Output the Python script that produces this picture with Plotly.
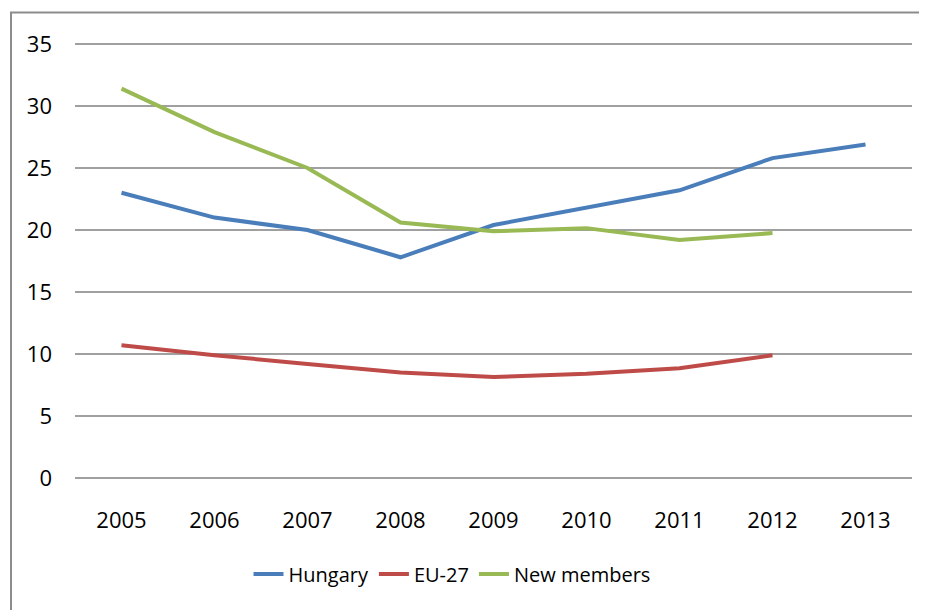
import plotly.graph_objects as go

years = ["2005", "2006", "2007", "2008", "2009", "2010", "2011", "2012", "2013"]
hungary = [23.0, 21.0, 20.0, 17.8, 20.4, 21.8, 23.2, 25.8, 26.9]
eu27 = [10.7, 9.9, 9.2, 8.5, 8.15, 8.4, 8.85, 9.9, None]
new_members = [31.4, 27.9, 25.0, 20.6, 19.9, 20.15, 19.2, 19.75, None]
y_ticks = [0, 5, 10, 15, 20, 25, 30, 35]

FONT = "Open Sans, Liberation Sans, sans-serif"

fig = go.Figure()
fig.add_trace(go.Scatter(x=years, y=hungary, name="Hungary", mode="lines",
                         line=dict(color="#4a7ebb", width=4)))
fig.add_trace(go.Scatter(x=years, y=eu27, name="EU-27", mode="lines",
                         line=dict(color="#be4b48", width=4)))
fig.add_trace(go.Scatter(x=years, y=new_members, name="New members", mode="lines",
                         line=dict(color="#98b954", width=4)))

# page body has an 8px default margin; work in screen pixels and offset
OFF = 8
PAD = 2  # extra pixels above/below so edge gridlines are not clipped
W, H = 927 - OFF, 610 - OFF
L, T = 75 - OFF, 44 - OFF - PAD
R = W - (912 - OFF)
B = H - (478 - OFF) - PAD
pw, ph = W - L - R, H - T - B
unit_px = (478 - 44) / 35.0
pad_units = PAD / unit_px
ymin, ymax = min(y_ticks), max(y_ticks)

def px_x(p):
    return (p - OFF - L) / pw

def px_y(p):
    return (H - B - (p - OFF)) / ph

fig.update_layout(
    width=W, height=H,
    margin=dict(l=L, r=R, t=T, b=B),
    paper_bgcolor="white", plot_bgcolor="white",
    font=dict(family=FONT, size=22, color="#000000"),
    showlegend=True,
    legend=dict(orientation="h", x=px_x(452), y=px_y(574), xanchor="center", yanchor="middle",
                font=dict(size=20), traceorder="normal"),
    xaxis=dict(type="category", range=[-0.5, 8.5], showgrid=False, zeroline=False,
               showline=False, ticks="", ticklabelstandoff=23 + PAD, fixedrange=True),
    yaxis=dict(range=[ymin - pad_units, ymax + pad_units], tickvals=y_ticks, showgrid=True,
               gridcolor="#a0a0a0", gridwidth=1.5, zeroline=False, showline=False, ticks="",
               ticklabelstandoff=22, fixedrange=True),
    shapes=[dict(type="rect", xref="paper", yref="paper",
                 x0=px_x(11), x1=px_x(1200), y0=px_y(900), y1=px_y(12.5),
                 line=dict(color="#8c8c8c", width=2), fillcolor="rgba(0,0,0,0)", layer="below")],
)

fig.write_html("out.html")
